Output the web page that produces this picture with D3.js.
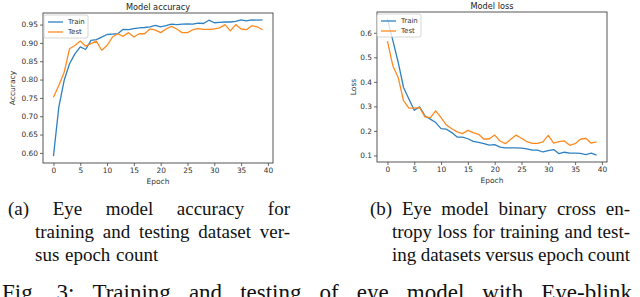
<!DOCTYPE html>
<html>
<head>
<meta charset="utf-8">
<script src="https://cdn.jsdelivr.net/npm/d3@7"></script>
<style>
  html, body { margin: 0; padding: 0; background: #fff; }
  svg { display: block; }
</style>
</head>
<body>
<svg id="fig" width="640" height="297"></svg>
<script>
// epochs 0..39
const epochs = d3.range(40);

const accTrain = [0.591, 0.725, 0.798, 0.843, 0.870, 0.889, 0.882, 0.907, 0.909, 0.916,
  0.923, 0.924, 0.925, 0.937, 0.936, 0.939, 0.941, 0.942, 0.944, 0.948,
  0.944, 0.947, 0.951, 0.950, 0.951, 0.952, 0.951, 0.954, 0.953, 0.962,
  0.955, 0.956, 0.957, 0.957, 0.959, 0.963, 0.960, 0.963, 0.962, 0.963];
const accTest = [0.752, 0.784, 0.820, 0.884, 0.893, 0.905, 0.891, 0.898, 0.905, 0.880,
  0.893, 0.916, 0.925, 0.918, 0.928, 0.916, 0.925, 0.925, 0.938, 0.935,
  0.928, 0.938, 0.945, 0.938, 0.928, 0.928, 0.936, 0.939, 0.937, 0.937,
  0.938, 0.941, 0.950, 0.933, 0.950, 0.938, 0.936, 0.947, 0.944, 0.936];

const lossTrain = [0.657, 0.569, 0.480, 0.377, 0.330, 0.284, 0.298, 0.261, 0.248, 0.234,
  0.209, 0.207, 0.193, 0.175, 0.175, 0.168, 0.157, 0.153, 0.148, 0.142,
  0.144, 0.134, 0.131, 0.131, 0.131, 0.130, 0.127, 0.122, 0.122, 0.114,
  0.120, 0.124, 0.107, 0.113, 0.109, 0.109, 0.108, 0.103, 0.109, 0.101];
const lossTest = [0.566, 0.466, 0.418, 0.323, 0.293, 0.293, 0.295, 0.257, 0.254, 0.282,
  0.254, 0.224, 0.209, 0.196, 0.189, 0.202, 0.193, 0.186, 0.166, 0.168,
  0.183, 0.159, 0.148, 0.166, 0.183, 0.170, 0.156, 0.149, 0.149, 0.155,
  0.182, 0.150, 0.156, 0.159, 0.141, 0.148, 0.166, 0.170, 0.150, 0.155];

const accTicks = [0.60, 0.65, 0.70, 0.75, 0.80, 0.85, 0.90, 0.95];
const lossTicks = [0.1, 0.2, 0.3, 0.4, 0.5, 0.6];
const epochTicks = [0, 5, 10, 15, 20, 25, 30, 35, 40];
const seriesNames = ["Train", "Test"];

const captionA = [
  ["(a)", "Eye", "model", "accuracy", "for"],
  ["training", "and", "testing", "dataset", "ver-"],
  ["sus", "epoch", "count"]
];
const captionB = [
  ["(b)", "Eye", "model", "binary", "cross", "en-"],
  ["tropy", "loss", "for", "training", "and", "test-"],
  ["ing", "datasets", "versus", "epoch", "count"]
];
const figCaption = ["Fig.", "3:", "Training", "and", "testing", "of", "eye", "model", "with", "Eye-blink"];

const colors = ["#2f80c2", "#ff8a1f"];
const svg = d3.select("#fig");

// matplotlib-like 5% padding
function padded(values) {
  const [lo, hi] = d3.extent(values);
  const m = (hi - lo) * 0.05;
  return [lo - m, hi + m];
}

function drawPanel(cfg) {
  const { left, top, width, height } = cfg.box;
  const g = svg.append("g").attr("transform", `translate(${left},${top})`);

  const x = d3.scaleLinear().domain(padded(epochs)).range([0, width]);
  const y = d3.scaleLinear().domain(padded(cfg.series.flat())).range([height, 0]);

  const xAxis = g.append("g")
    .attr("transform", `translate(0,${height})`)
    .call(d3.axisBottom(x).tickValues(epochTicks).tickSize(3).tickPadding(2).tickFormat(d3.format("d")));
  const yAxis = g.append("g")
    .call(d3.axisLeft(y).tickValues(cfg.ticks).tickSize(3).tickPadding(2).tickFormat(d3.format(cfg.fmt)));
  [xAxis, yAxis].forEach(a => {
    a.select(".domain").remove();
    a.selectAll("line").attr("stroke", "#444").attr("stroke-width", 0.8);
    a.selectAll("text").attr("fill", "#333").style("font-family", "DejaVu Sans").style("font-size", "7.4px");
  });

  const line = d3.line().x((d, i) => x(epochs[i])).y(d => y(d));
  cfg.series.forEach((s, i) => {
    g.append("path")
      .datum(s)
      .attr("fill", "none")
      .attr("stroke", colors[i])
      .attr("stroke-width", 1.3)
      .attr("stroke-linejoin", "round")
      .attr("d", line);
  });

  g.append("rect")
    .attr("width", width).attr("height", height)
    .attr("fill", "none").attr("stroke", "#444").attr("stroke-width", 0.9);

  g.append("text")
    .attr("x", width / 2).attr("y", -3)
    .attr("text-anchor", "middle")
    .attr("fill", "#222")
    .style("font-family", "DejaVu Sans").style("font-size", "8.2px")
    .text(cfg.title);

  g.append("text")
    .attr("x", width / 2).attr("y", height + 21)
    .attr("text-anchor", "middle")
    .attr("fill", "#333")
    .style("font-family", "DejaVu Sans").style("font-size", "7.5px")
    .text("Epoch");

  g.append("text")
    .attr("transform", `translate(${cfg.ylabelX},${height / 2}) rotate(-90)`)
    .attr("text-anchor", "middle")
    .attr("fill", "#333")
    .style("font-family", "DejaVu Sans").style("font-size", "7.5px")
    .text(cfg.ylabel);

  // legend
  const lg = g.append("g").attr("transform", `translate(${cfg.legend[0]},${cfg.legend[1]})`);
  lg.append("rect")
    .attr("width", 44).attr("height", 23).attr("rx", 2)
    .attr("fill", "#fff").attr("fill-opacity", 0.8)
    .attr("stroke", "#ccc").attr("stroke-width", 0.8);
  seriesNames.forEach((name, i) => {
    const yy = 7 + i * 10;
    lg.append("line")
      .attr("x1", 4).attr("x2", 19).attr("y1", yy).attr("y2", yy)
      .attr("stroke", colors[i]).attr("stroke-width", 1.3);
    lg.append("text")
      .attr("x", 24).attr("y", yy).attr("dy", "0.35em")
      .attr("fill", "#333")
      .style("font-family", "DejaVu Sans").style("font-size", "7px")
      .text(name);
  });
}

drawPanel({
  box: { left: 43, top: 13, width: 230, height: 150 },
  series: [accTrain, accTest],
  ticks: accTicks, fmt: ".2f",
  title: "Model accuracy", ylabel: "Accuracy", ylabelX: -28,
  legend: [1, 2]
});
drawPanel({
  box: { left: 377, top: 12, width: 230, height: 150 },
  series: [lossTrain, lossTest],
  ticks: lossTicks, fmt: ".1f",
  title: "Model loss", ylabel: "Loss", ylabelX: -21,
  legend: [0, 2]
});

// justified caption lines (Times-like serif)
function justifyLine(words, x0, x1, yBase, size, justify) {
  const g = svg.append("g");
  const nodes = words.map(w => g.append("text")
    .attr("y", yBase)
    .attr("fill", "#111")
    .style("font-family", "Liberation Serif").style("font-size", size + "px")
    .text(w));
  const widths = nodes.map(n => n.node().getComputedTextLength());
  const total = d3.sum(widths);
  const gap = justify ? (x1 - x0 - total) / (words.length - 1) : size * 0.3;
  let cx = x0;
  nodes.forEach((n, i) => { n.attr("x", cx); cx += widths[i] + gap; });
}

const capSize = 19;
const capBase = [215, 238, 261];
justifyLine(captionA[0], 8, 290, capBase[0], capSize, true);
justifyLine(captionA[1], 35, 290, capBase[1], capSize, true);
justifyLine(captionA[2], 35, 290, capBase[2], capSize, false);
justifyLine(captionB[0], 370, 630, capBase[0], capSize, true);
justifyLine(captionB[1], 392, 630, capBase[1], capSize, true);
justifyLine(captionB[2], 392, 630, capBase[2], capSize, true);
justifyLine(figCaption, 2, 632, 300, 23, true);
</script>
</body>
</html>
